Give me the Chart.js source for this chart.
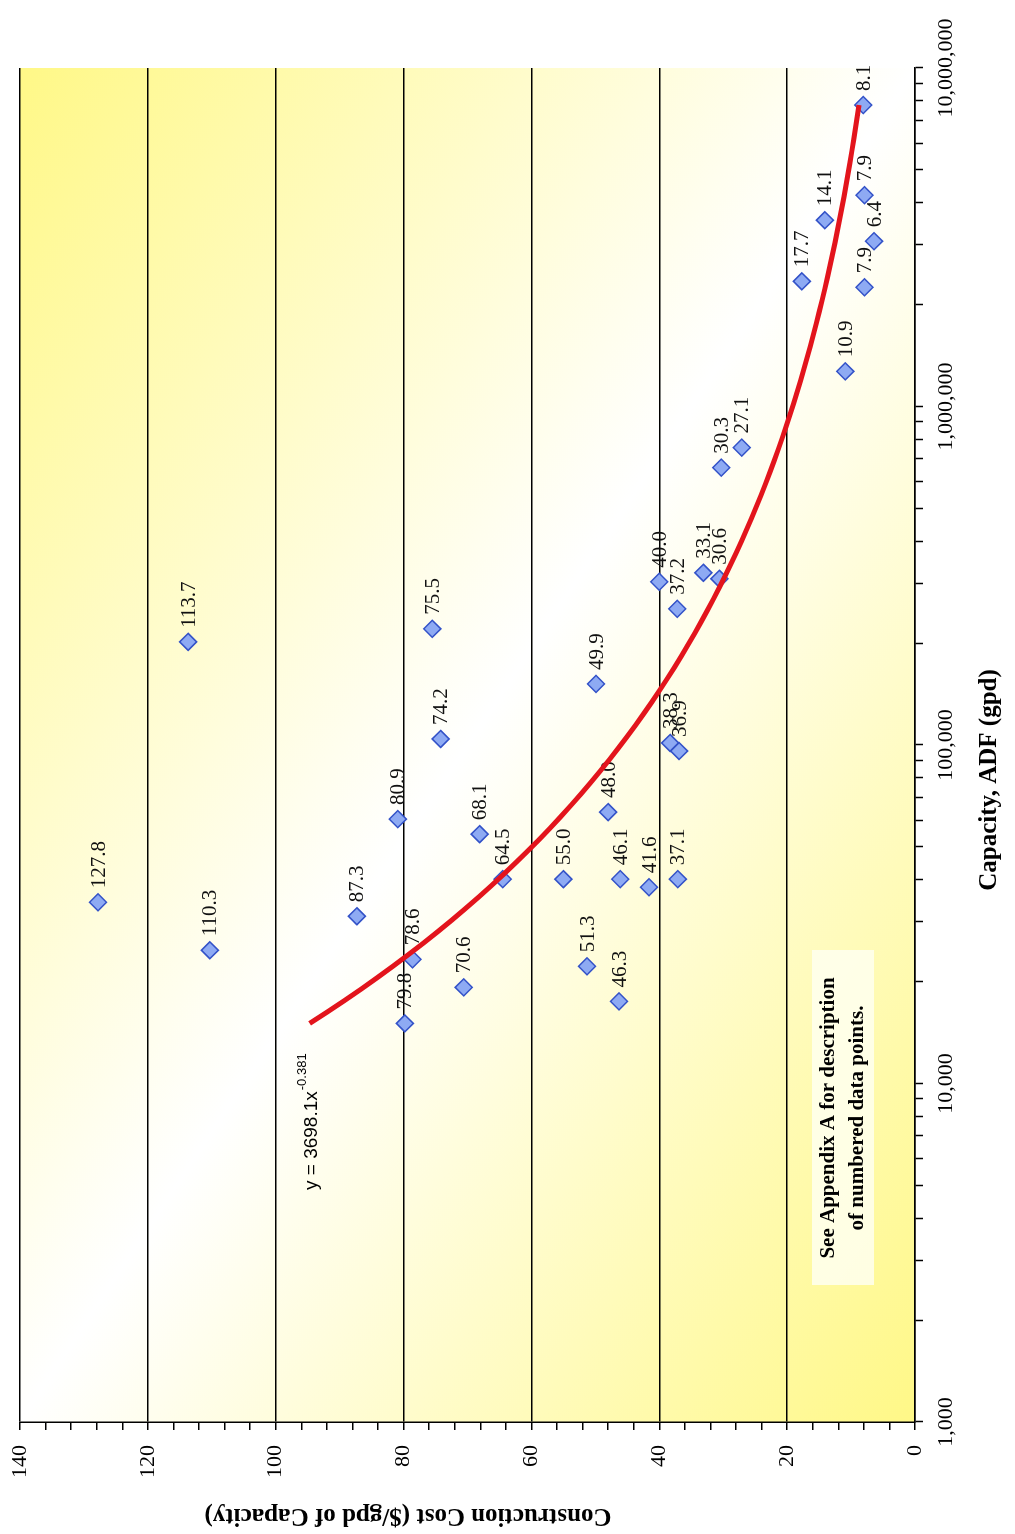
<!DOCTYPE html>
<html>
<head>
<meta charset="utf-8">
<script src="https://cdn.jsdelivr.net/npm/chart.js@4.4.1/dist/chart.umd.min.js"></script>
<style>
  html, body { margin: 0; padding: 0; background: #fff; overflow: hidden; }
  /* the chart is laid out landscape and turned a quarter turn onto the portrait page */
  #page { position: absolute; left: 0; top: 0; width: 1534px; height: 1015px;
          transform-origin: 0 0; transform: translate(0, 1534px) rotate(-90deg); }
</style>
</head>
<body>
<div id="page"><canvas id="chart" width="1534" height="1015"></canvas></div>
<script>
// construction cost ($/gpd) of each plant, as printed beside its point
var costValues = [127.8, 110.3, 113.7, 87.3, 80.9, 79.8, 78.6, 75.5, 74.2, 70.6,
                  68.1, 64.5, 55.0, 51.3, 49.9, 48.0, 46.3, 46.1, 41.6, 40.0,
                  38.3, 37.2, 36.9, 37.1, 33.1, 30.6, 30.3, 27.1, 17.7, 14.1,
                  10.9, 8.1, 7.9, 7.9, 6.4];
// plant capacity, ADF (gpd)
var capacityValues = [34300, 24750, 201700, 31200, 60400, 15050, 23270, 220400, 104200, 19230,
                      54530, 40150, 40150, 22190, 151500, 63350, 17480, 40150, 38000, 303500,
                      101400, 252500, 96000, 40150, 322700, 309800, 659800, 756000, 2343000, 3551000,
                      1270000, 7773000, 4210000, 2250000, 3078000];

// power-law trendline  y = 3698.1 x^-0.381
var trendA = 3698.1;
var trendB = -0.381;

var costTicks = [];
for (var c = 0; c <= 140; c += 4) costTicks.push(c);
var decades = [1000, 10000, 100000, 1000000];
var capacityTicks = [];
decades.forEach(function(d) {
  for (var m = 1; m <= 9; m++) capacityTicks.push(d * m);
});
capacityTicks.push(10000000);
var capacityLabels = [1000, 10000, 100000, 1000000, 10000000];

var serif = '"Liberation Serif", "Times New Roman", serif';
var narrow = '"Liberation Sans Narrow", "Liberation Sans", Arial, sans-serif';

// trendline sampled along the data range
var trendPoints = [];
var lo = Math.log10(Math.min.apply(null, capacityValues));
var hi = Math.log10(Math.max.apply(null, capacityValues));
for (var i = 0; i <= 80; i++) {
  var xv = Math.pow(10, lo + (hi - lo) * i / 80);
  trendPoints.push({ x: xv, y: trendA * Math.pow(xv, trendB) });
}

var plantPoints = costValues.map(function(v, i) {
  return { x: capacityValues[i], y: v };
});

// yellow - white - yellow diagonal fill behind the plot
var plotBackground = {
  id: 'plotBackground',
  beforeDraw: function(chart) {
    var a = chart.chartArea, ctx = chart.ctx;
    var w = a.right - a.left, h = a.bottom - a.top;
    var cx = (a.left + a.right) / 2, cy = (a.top + a.bottom) / 2;
    var k = w * h / (w * w + h * h);
    var g = ctx.createLinearGradient(cx - h * k, cy + w * k, cx + h * k, cy - w * k);
    g.addColorStop(0, 'rgb(255,248,135)');
    g.addColorStop(0.5, 'rgb(255,255,255)');
    g.addColorStop(1, 'rgb(255,248,135)');
    ctx.save();
    ctx.fillStyle = g;
    ctx.fillRect(a.left, a.top, w, h);
    ctx.restore();
  }
};

// value labels to the right of each diamond
var pointLabels = {
  id: 'pointLabels',
  afterDatasetDraw: function(chart, args) {
    if (args.index !== 1) return;
    var ctx = chart.ctx;
    ctx.save();
    ctx.font = '21px ' + serif;
    ctx.fillStyle = '#111';
    ctx.textBaseline = 'middle';
    args.meta.data.forEach(function(pt, i) {
      ctx.fillText(costValues[i].toFixed(1), pt.x + 14, pt.y + 1);
    });
    ctx.restore();
  }
};

// axis titles, trend equation and the appendix note
var notes = {
  id: 'notes',
  afterDraw: function(chart) {
    var ctx = chart.ctx;
    ctx.save();
    ctx.fillStyle = '#000';

    ctx.font = 'bold 25px ' + serif;
    ctx.textAlign = 'center';
    ctx.textBaseline = 'middle';
    ctx.fillText('Capacity, ADF (gpd)', 754, 990);

    ctx.save();
    ctx.translate(19, 408);
    ctx.rotate(-Math.PI / 2);
    ctx.fillText('Construction Cost ($/gpd of Capacity)', 0, 0);
    ctx.restore();

    // equation with superscript exponent
    ctx.textAlign = 'left';
    ctx.font = '19px ' + narrow;
    var base = 'y = 3698.1x';
    ctx.fillText(base, 344, 312);
    var bw = ctx.measureText(base).width;
    ctx.font = '13px ' + narrow;
    ctx.fillText('-0.381', 344 + bw + 1, 302);

    // note box
    ctx.fillStyle = 'rgba(255,255,240,0.85)';
    ctx.fillRect(249, 812, 335, 62);
    ctx.fillStyle = '#000';
    ctx.font = 'bold 21px ' + serif;
    ctx.textAlign = 'center';
    ctx.fillText('See Appendix A for description', 416, 829);
    ctx.fillText('of numbered data points.', 416, 858);
    ctx.restore();
  }
};

Chart.defaults.font.family = serif;
Chart.defaults.color = '#000';

var ctx = document.getElementById('chart');
var chart = new Chart(ctx, {
  type: 'scatter',
  data: {
    datasets: [{
      label: 'Trend',
      data: trendPoints,
      showLine: true,
      borderColor: '#e3141c',
      borderWidth: 5,
      pointRadius: 0,
      fill: false
    }, {
      label: 'Plants',
      data: plantPoints,
      pointStyle: 'rectRot',
      pointRadius: 8.5,
      backgroundColor: '#8eaaf3',
      borderColor: '#3352c8',
      borderWidth: 1.5
    }]
  },
  options: {
    responsive: false,
    animation: false,
    devicePixelRatio: 1,
    events: [],
    layout: { padding: { top: 20, right: 68, left: 0, bottom: 0 } },
    plugins: {
      legend: { display: false },
      tooltip: { enabled: false }
    },
    scales: {
      x: {
        type: 'logarithmic',
        position: 'bottom',
        min: 1000,
        max: 10000000,
        afterBuildTicks: function(s) {
          s.ticks = capacityTicks.map(function(v) { return { value: v }; });
        },
        afterFit: function(s) {
          s.height = 100;
          s.paddingLeft = 0;
          s.paddingRight = 0;
        },
        ticks: {
          autoSkip: false,
          maxRotation: 0,
          minRotation: 0,
          padding: 10,
          font: { size: 22 },
          callback: function(v) {
            return capacityLabels.indexOf(v) >= 0 ? v.toLocaleString('en-US') : '';
          }
        },
        grid: {
          drawOnChartArea: false,
          drawTicks: true,
          tickLength: 8,
          tickColor: '#000',
          tickWidth: 1.5
        },
        border: { display: true, color: '#000', width: 1.5 }
      },
      y: {
        type: 'linear',
        min: 0,
        max: 140,
        afterBuildTicks: function(s) {
          s.ticks = costTicks.map(function(v) { return { value: v }; });
        },
        afterFit: function(s) {
          s.width = 112;
          s.paddingTop = 0;
          s.paddingBottom = 0;
        },
        ticks: {
          autoSkip: false,
          padding: 15,
          font: { size: 22 },
          callback: function(v) { return v % 20 === 0 ? v : ''; }
        },
        grid: {
          color: function(c) {
            return (c.tick && c.tick.value % 20 === 0) ? '#000' : 'rgba(0,0,0,0)';
          },
          lineWidth: 1.5,
          drawTicks: true,
          tickLength: 8,
          tickColor: '#000',
          tickWidth: 1.5
        },
        border: { display: true, color: '#000', width: 1.5 }
      }
    }
  },
  plugins: [plotBackground, pointLabels, notes]
});
</script>
</body>
</html>
